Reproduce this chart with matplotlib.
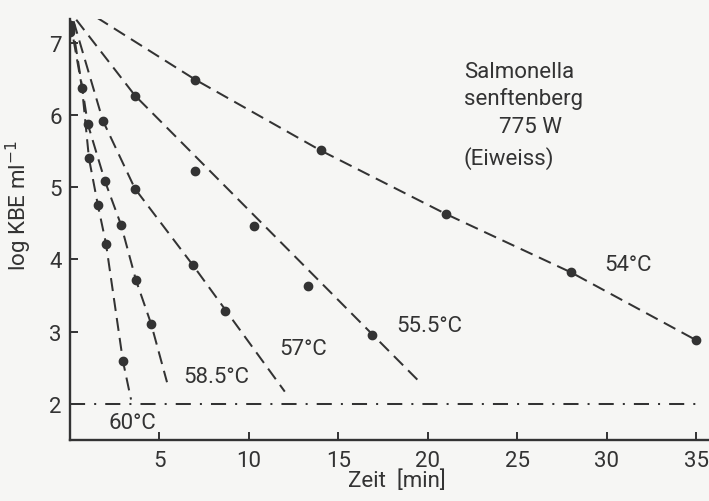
import matplotlib
matplotlib.use("Agg")
import matplotlib.pyplot as plt

plt.rcParams['font.family'] = ['Roboto', 'DejaVu Sans']
plt.rcParams['font.weight'] = 'normal'

INK = "#333333"
BG = "#f6f6f4"
FS = 16

# Messpunkte (Zeit in min, log KBE/ml) je Temperatur
t54 = [0, 7, 14, 21, 28, 35]
y54 = [7.2, 6.49, 5.51, 4.63, 3.82, 2.88]
t555 = [0, 3.63, 6.98, 10.28, 13.3, 16.87]
y555 = [7.22, 6.27, 5.23, 4.47, 3.63, 2.95]
t57 = [0, 1.84, 3.63, 6.87, 8.66]
y57 = [7.18, 5.92, 4.98, 3.92, 3.28]
t585 = [0, 1.0, 1.96, 2.85, 3.69, 4.53]
y585 = [7.15, 5.87, 5.08, 4.48, 3.71, 3.11]
t60 = [0, 0.67, 1.06, 1.56, 2.01, 2.96]
y60 = [7.25, 6.38, 5.40, 4.75, 4.22, 2.59]

# eingezeichnete Ausgleichslinien (Stuetzpunkte)
l54_x = [1.5, 7, 14, 21, 28, 35]
l54_y = [7.35, 6.49, 5.51, 4.63, 3.82, 2.88]
l555_x = [0.35, 3.63, 19.55]
l555_y = [7.32, 6.27, 2.30]
l57_x = [0.2, 1.84, 3.63, 6.87, 12.0]
l57_y = [7.3, 5.92, 4.98, 3.92, 2.17]
l585_x = [0.1, 1.0, 1.96, 2.85, 3.69, 4.53, 5.42]
l585_y = [7.3, 5.87, 5.08, 4.48, 3.71, 3.11, 2.30]
l60_x = [0.0, 0.67, 1.06, 1.56, 2.01, 2.96, 3.41]
l60_y = [7.32, 6.38, 5.40, 4.75, 4.22, 2.59, 2.06]

labels = ["54°C", "55.5°C", "57°C", "58.5°C", "60°C"]
label_pos = [(31.2, 3.93), (20.1, 3.09), (13.0, 2.77), (8.2, 2.38), (3.5, 1.74)]

xticks = [5, 10, 15, 20, 25, 30, 35]
yticks = [2, 3, 4, 5, 6, 7]
grenze = 2.0

fig = plt.figure(figsize=(7.09, 5.02), dpi=100, facecolor=BG)
ax = fig.add_axes([70 / 709, 1 - 441 / 502, 1 - 70 / 709, (441 - 20) / 502])
ax.set_facecolor(BG)

dash = (0, (6.5, 3.5))
for lx, ly in [(l54_x, l54_y), (l555_x, l555_y), (l57_x, l57_y),
               (l585_x, l585_y), (l60_x, l60_y)]:
    ax.plot(lx, ly, color=INK, lw=1.45, linestyle=dash)

for tx, ty in [(t54, y54), (t555, y555), (t57, y57), (t585, y585), (t60, y60)]:
    ax.plot(tx, ty, 'o', color=INK, ms=6, mec=INK)

ax.plot([0, 35.3], [grenze, grenze], color=INK, lw=1.45,
        linestyle=(0, (7.5, 4.5, 1, 4.5)))

for lab, (x, y) in zip(labels, label_pos):
    ax.text(x, y, lab, color=INK, fontsize=FS, ha='center', va='center')

ax.text(22.0, 6.60, "Salmonella", color=INK, fontsize=FS, ha='left', va='center')
ax.text(22.0, 6.23, "senftenberg", color=INK, fontsize=FS, ha='left', va='center')
ax.text(25.7, 5.84, "775 W", color=INK, fontsize=FS, ha='center', va='center')
ax.text(22.0, 5.41, "(Eiweiss)", color=INK, fontsize=FS, ha='left', va='center')

ax.set_xlim(0, 35.7)
ax.set_ylim(1.5, 7.33)
ax.set_xticks(xticks)
ax.set_yticks(yticks)
ax.tick_params(direction='in', length=6, width=1.4, colors=INK, labelsize=FS)
ax.tick_params(axis='x', pad=7)
ax.tick_params(axis='y', pad=6)
for s in ['top', 'right']:
    ax.spines[s].set_visible(False)
for s in ['left', 'bottom']:
    ax.spines[s].set_color(INK)
    ax.spines[s].set_linewidth(1.7)

ax.set_xlabel("Zeit  [min]", color=INK, fontsize=FS)
ax.xaxis.set_label_coords(0.512, -0.07)
ax.set_ylabel("log KBE ml$^{-1}$", color=INK, fontsize=FS)
ax.yaxis.set_label_coords(-0.056, 0.56)

fig.savefig("out.png", dpi=100, facecolor=BG)
